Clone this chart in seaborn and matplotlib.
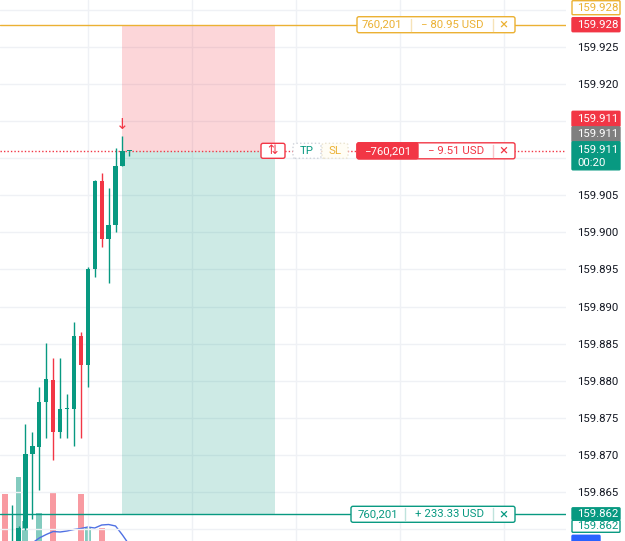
import matplotlib
matplotlib.use("Agg")
import matplotlib.pyplot as plt
from matplotlib.patches import FancyBboxPatch, Rectangle
from matplotlib.transforms import IdentityTransform
import numpy as np
import seaborn as sns

sns.set_theme(style="white")
plt.rcParams["font.family"] = ["Roboto", "DejaVu Sans"]

# candles (bar index, OHLC)
bars = list(range(-2, 17))
opens = [159.8578, 159.8565, 159.8575, 159.8602, 159.8701, 159.8711, 159.8772, 159.8801, 159.8731, 159.8762,
         159.8762, 159.8861, 159.8821, 159.8951, 159.9069, 159.8991, 159.9010, 159.9090, 159.9110]
highs = [159.8580, 159.8633, 159.8604, 159.8742, 159.8731, 159.8792, 159.8851, 159.8831, 159.8831, 159.8782,
         159.8879, 159.8866, 159.8953, 159.9070, 159.9080, 159.9060, 159.9114, 159.9130, 159.9110]
lows = [159.8560, 159.8560, 159.8570, 159.8599, 159.8614, 159.8653, 159.8723, 159.8693, 159.8723, 159.8723,
        159.8712, 159.8723, 159.8792, 159.8940, 159.8980, 159.8932, 159.9001, 159.9090, 159.9103]
closes = [159.8565, 159.8575, 159.8602, 159.8701, 159.8712, 159.8772, 159.8803, 159.8731, 159.8762, 159.8763,
          159.8861, 159.8821, 159.8951, 159.9069, 159.8991, 159.9010, 159.9090, 159.9110, 159.9110]
volumes = [107, 40, 124, 80, 45, 88, 50, 108, 55, 42, 58, 107, 73, 52, 73, 48, 55, 40, 12]
ma_bars = list(range(2, 17))
volume_ma = [58, 63, 66.5, 69.5, 69, 70, 71.5, 72.5, 74, 73, 76, 76.5, 75, 66, 56]

# position / orders
entry_price = 159.911
stop_price = 159.928
target_price = 159.862
position_start, position_end = 15, 37
qty = "760,201"
stop_pnl = "− 80.95 USD"
open_pnl = "− 9.51 USD"
target_pnl = "+ 233.33 USD"
countdown = "00:20"
price_ticks = [159.860, 159.865, 159.870, 159.875, 159.880, 159.885, 159.890, 159.895,
               159.900, 159.905, 159.910, 159.915, 159.920, 159.925, 159.930]
# ticks covered by the price tags on the scale
hidden_ticks = [159.860, 159.910, 159.915, 159.930]
grid_bars = [10, 25, 40, 55, 70]

GREEN = "#089981"
RED = "#f23645"
ORANGE = "#ebb133"
TEXT = "#131722"
W, H = 625, 541

fig = plt.figure(figsize=(W / 100, H / 100), dpi=100)
rect = [0, 0, 566 / W, 1]
vol_ax = fig.add_axes(rect)
ax = fig.add_axes(rect, sharex=vol_ax)
ax.set_facecolor("none")

up = [c >= o for o, c in zip(opens, closes)]

# volume pane
vol_colors = [(8 / 255, 153 / 255, 129 / 255, 0.5) if u else (242 / 255, 54 / 255, 69 / 255, 0.5) for u in up]
vol_ax.bar(bars, volumes, width=0.85, color=vol_colors, linewidth=0)
sns.lineplot(x=ma_bars, y=volume_ma, ax=vol_ax, color="#4f70e3", linewidth=1)
vol_ax.set_ylim(60, 601)
vol_ax.set_yticks([])
vol_ax.tick_params(axis="both", length=0, labelbottom=False, labelleft=False)
for s in vol_ax.spines.values():
    s.set_visible(False)

# candles
cc = [GREEN if u else RED for u in up]
ax.vlines(bars, lows, highs, colors=cc, linewidth=1, zorder=3)
body_lo = np.minimum(opens, closes)
body_h = np.maximum(np.abs(np.array(closes) - np.array(opens)), 0.00012)
ax.bar(bars, body_h, bottom=body_lo, width=0.62, color=cc, linewidth=0, zorder=4)

# position rectangles
ax.add_patch(Rectangle((position_start, entry_price), position_end - position_start, stop_price - entry_price,
                       facecolor=RED, alpha=0.2, linewidth=0, zorder=1))
ax.add_patch(Rectangle((position_start, target_price), position_end - position_start, entry_price - target_price,
                       facecolor=GREEN, alpha=0.2, linewidth=0, zorder=1))

ax.axhline(stop_price, color=ORANGE, linewidth=1, zorder=2)
ax.axhline(entry_price, color=RED, linewidth=1, linestyle=(0, (1, 1.5)), zorder=2)
ax.axhline(target_price, color=GREEN, linewidth=1, zorder=2)
ax.text(position_start, 159.9146, "↓", color=RED, ha="center", va="center", fontsize=11, zorder=5,
        family=["DejaVu Sans"])

ax.set_xlim(-2.67, 79.0)
ax.set_ylim(159.8584, 159.93133)
ax.set_yticks(price_ticks)
ax.set_yticklabels(["" if t in hidden_ticks else f"{t:.3f}" for t in price_ticks])
ax.yaxis.tick_right()
ax.tick_params(axis="y", length=0, pad=8, labelsize=8.2, labelcolor=TEXT)
ax.set_xticks(grid_bars)
ax.tick_params(axis="x", length=0, labelbottom=False)
ax.grid(True, color="#eff1f5", linewidth=1)
ax.set_axisbelow(True)
for s in ax.spines.values():
    s.set_visible(False)


def ypx(price):
    return ax.transData.transform((0, price))[1]


def box(x0, x1, yc, h, fc, ec, ls="-", r=2, z=10):
    fig.add_artist(FancyBboxPatch((x0, yc - h / 2), x1 - x0, h, boxstyle=f"round,pad=0,rounding_size={r}",
                                  transform=IdentityTransform(), facecolor=fc, edgecolor=ec, linewidth=1,
                                  linestyle=ls, zorder=z))


def txt(x, y, s, color, ha="left", size=8.2, z=11):
    fig.text(x, y, s, transform=IdentityTransform(), ha=ha, va="center", color=color, fontsize=size, zorder=z)


def divider(x, yc, h, color):
    fig.add_artist(plt.Line2D([x, x], [yc - h / 2 + 2, yc + h / 2 - 2], transform=IdentityTransform(),
                              color=color, linewidth=1, zorder=11))


ys, ye, yt = ypx(stop_price), ypx(entry_price), ypx(target_price)

# order labels on the lines
box(357, 515, ys, 16, "white", ORANGE)
txt(362, ys, qty, ORANGE)
divider(411, ys, 16, "#f6e3b8")
txt(421, ys, stop_pnl, ORANGE)
divider(493, ys, 16, "#f6e3b8")
txt(503.5, ys, "×", ORANGE, ha="center", size=11)

box(261, 285, ye, 15, "white", RED)
txt(273, ye, "⇅", RED, ha="center", size=9)
box(293, 321, ye, 15, "white", "#cfd3da", ls=":")
txt(307, ye, "TP", GREEN, ha="center")
box(322, 348, ye, 15, "#fffdf5", "#e9e3cf", ls=":")
txt(335, ye, "SL", ORANGE, ha="center")
box(357, 515, ye, 16, "white", RED)
box(357, 418, ye, 16, RED, RED, z=10.5)
txt(387.5, ye, "−" + qty, "white", ha="center")
txt(428, ye, open_pnl, RED)
divider(493, ye, 16, "#f9c4c9")
txt(503.5, ye, "×", RED, ha="center", size=11)

box(351, 515, yt, 16, "white", GREEN)
txt(358, yt, qty, GREEN)
divider(405, yt, 16, "#bfe3dc")
txt(415, yt, target_pnl, GREEN)
divider(493, yt, 16, "#bfe3dc")
txt(503.5, yt, "×", GREEN, ha="center", size=11)

# price scale tags
box(572, 620, ys + 17, 14, "white", ORANGE, r=1)
txt(577, ys + 17, f"{stop_price:.3f}", ORANGE)
box(572, 620, ys, 14, RED, RED, r=1)
txt(577, ys, f"{stop_price:.3f}", "white")

box(572, 620, ye + 32, 15, RED, RED, r=1)
txt(577, ye + 32, f"{entry_price:.3f}", "white")
box(572, 620, ye + 16.5, 15, "#7f7f7f", "#7f7f7f", r=1)
txt(577, ye + 16.5, f"{entry_price:.3f}", "white")
box(572, 620, ye - 5, 28, GREEN, GREEN, r=1)
txt(577, ye + 1, f"{entry_price:.3f}", "white")
txt(577, ye - 12, countdown, "white")

box(572, 620, yt + 0.5, 12, GREEN, GREEN, r=1)
txt(577, yt + 0.5, f"{target_price:.3f}", "white")
box(572, 620, yt - 12, 12, "white", GREEN, r=1)
txt(577, yt - 12, f"{target_price:.3f}", GREEN)
box(572, 600, yt - 28, 14, "#2962ff", "#2962ff", r=1)

fig.savefig("out.png", dpi=100)
